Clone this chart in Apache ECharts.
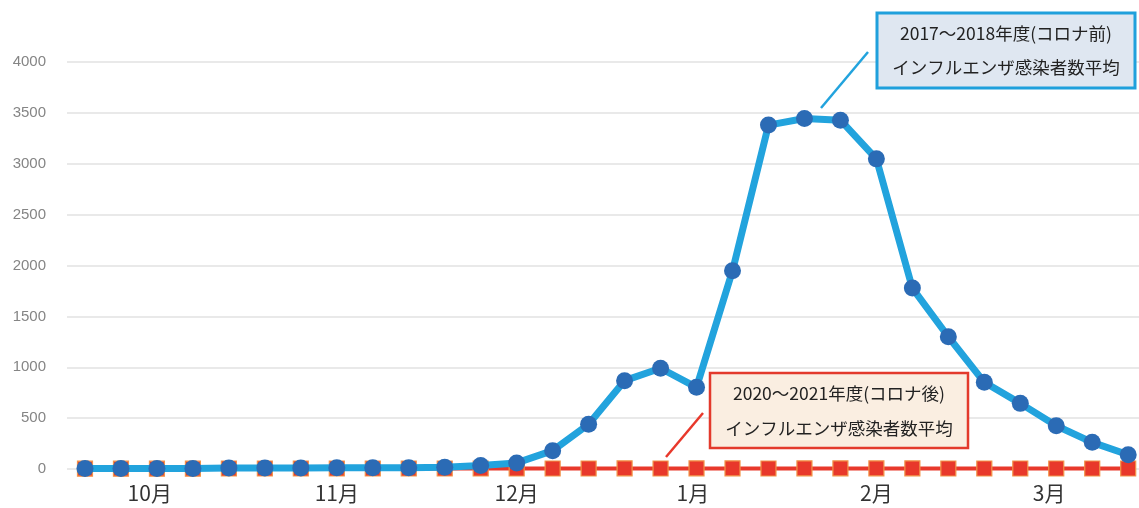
<!DOCTYPE html>
<html>
<head>
<meta charset="utf-8">
<script src="https://cdn.jsdelivr.net/npm/echarts@6/dist/echarts.min.js"></script>
<style>
html,body{margin:0;padding:0;background:#fff;}
#chart{width:1139px;height:508px;}
</style>
</head>
<body>
<div id="chart"></div>
<script>
// weekly points (October -> March), 30 weeks
var before = [5, 5, 6, 6, 10, 10, 10, 12, 12, 12, 17, 35, 60, 180, 440, 868, 990, 803, 1948, 3380, 3445, 3428, 3048, 1778, 1300, 852, 645, 425, 262, 140];
var after = [3, 3, 3, 3, 5, 5, 5, 5, 5, 5, 5, 5, 5, 5, 5, 6, 5, 6, 6, 5, 6, 6, 6, 6, 5, 5, 5, 5, 5, 5];
var monthLabels = ['10月', '11月', '12月', '1月', '2月', '3月'];
var monthTickWeeks = [1.8, 7, 12, 16.9, 22, 26.8];
var yTicks = [0, 500, 1000, 1500, 2000, 2500, 3000, 3500, 4000];
var labelBefore = ['2017～2018年度(コロナ前)', 'インフルエンザ感染者数平均'];
var labelAfter = ['2020～2021年度(コロナ後)', 'インフルエンザ感染者数平均'];

var font = '"Noto Sans CJK JP", "Noto Sans", sans-serif';
function pairs(arr){ return arr.map(function(v,i){ return [i, v]; }); }

var chart = echarts.init(document.getElementById('chart'), null, {renderer:'canvas'});
chart.setOption({
  animation: false,
  grid: {left: 67, right: 0, top: 62, bottom: 39, containLabel: false},
  xAxis: {
    type: 'value', min: -0.5, max: 29.3,
    axisLine: {show: false}, axisTick: {show: false}, splitLine: {show: false},
    axisLabel: {
      customValues: monthTickWeeks,
      formatter: function(v){ var i = monthTickWeeks.indexOf(v); return i >= 0 ? monthLabels[i] : ''; },
      color: '#333', fontSize: 21, fontFamily: font, margin: 14
    }
  },
  yAxis: {
    type: 'value', min: yTicks[0], max: yTicks[yTicks.length-1], interval: 500,
    axisLine: {show: false}, axisTick: {show: false},
    splitLine: {lineStyle: {color: '#e2e2e2', width: 1.5}},
    axisLabel: {color: '#858585', fontSize: 15, fontFamily: '"Liberation Sans", Arial, sans-serif', margin: 21,
      formatter: function(v){ return String(v); }}
  },
  series: [
    {
      type: 'line', data: pairs(after), z: 2,
      lineStyle: {color: '#e8382b', width: 4},
      symbol: 'rect', symbolSize: 15,
      itemStyle: {color: '#e8382b', borderColor: '#f29448', borderWidth: 1.2}
    },
    {
      type: 'line', data: pairs(before), z: 3,
      lineStyle: {color: '#22a3dd', width: 7},
      symbol: 'circle', symbolSize: 17,
      itemStyle: {color: '#2b6bb5', borderWidth: 0}
    }
  ],
  graphic: [
    {type: 'line', shape: {x1: 868, y1: 52, x2: 821, y2: 108}, style: {stroke: '#22a3dd', lineWidth: 2.5}, z: 10},
    {type: 'rect', shape: {x: 877, y: 13, width: 258, height: 75}, style: {fill: '#dfe7f1', stroke: '#1fa0dc', lineWidth: 3}, z: 10},
    {type: 'text', x: 1006, y: 33, style: {text: labelBefore[0], fill: '#222', font: '17.5px ' + font, align: 'center', verticalAlign: 'middle'}, z: 11},
    {type: 'text', x: 1006, y: 67, style: {text: labelBefore[1], fill: '#222', font: '17.5px ' + font, align: 'center', verticalAlign: 'middle'}, z: 11},
    {type: 'line', shape: {x1: 703, y1: 413, x2: 666, y2: 457}, style: {stroke: '#e8382b', lineWidth: 2.5}, z: 10},
    {type: 'rect', shape: {x: 710, y: 373, width: 258, height: 75}, style: {fill: '#faeee1', stroke: '#e33a2c', lineWidth: 2.5}, z: 10},
    {type: 'text', x: 839, y: 393, style: {text: labelAfter[0], fill: '#222', font: '17.5px ' + font, align: 'center', verticalAlign: 'middle'}, z: 11},
    {type: 'text', x: 839, y: 428, style: {text: labelAfter[1], fill: '#222', font: '17.5px ' + font, align: 'center', verticalAlign: 'middle'}, z: 11}
  ]
});
</script>
</body>
</html>
